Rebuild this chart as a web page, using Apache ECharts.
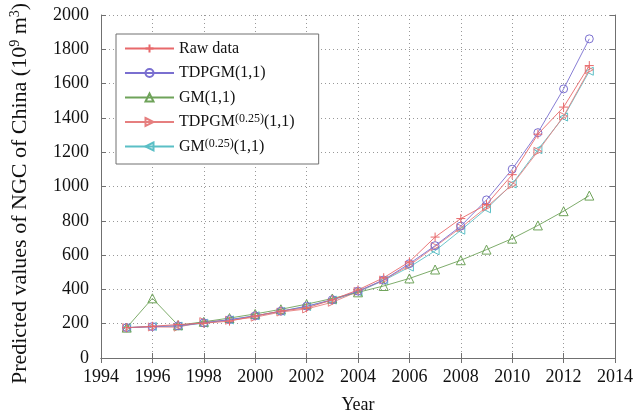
<!DOCTYPE html>
<html>
<head>
<meta charset="utf-8">
<script src="https://cdn.jsdelivr.net/npm/echarts@6/dist/echarts.min.js"></script>
<style>html,body{margin:0;padding:0;background:#fff;}#c{width:636px;height:419px;}</style>
</head>
<body>
<div id="c"></div>
<script>
var years = [1995,1996,1997,1998,1999,2000,2001,2002,2003,2004,2005,2006,2007,2008,2009,2010,2011,2012,2013];
var rawData  = [177,185,195,203,215,245,274,292,339,397,468,561,705,813,895,1069,1305,1463,1705];
var tdpgm    = [177,183,188,205,224,246,273,302,340,390,455,550,655,769,922,1101,1314,1569,1861];
var gm       = [177,348,191,211,233,257,284,314,347,383,420,464,516,570,632,696,773,856,947];
var tdpgm025 = [177,181,180,212,220,238,268,286,325,388,455,540,650,760,880,1010,1205,1410,1681];
var gm025    = [177,184,186,203,222,246,272,300,338,385,452,530,625,745,870,1015,1215,1405,1672];
var seriesNames = ['Raw data','TDPGM(1,1)','GM(1,1)','TDPGM^(0.25)(1,1)','GM^(0.25)(1,1)'];
var xTicks = {min:1994, max:2014, interval:2};
var yTicks = {min:0, max:2000, interval:200};

var FONT = 'Liberation Serif';
function pairs(v){ return years.map(function(y,i){ return [y, v[i]]; }); }
var colors = ['#e8696b','#7a6fd0','#6fa35a','#e67f7f','#5bbfc6'];
var symbols = [
  'path://M0,-1L0,1M-1,0L1,0',
  'circle',
  'triangle',
  'path://M0,0L10,5L0,10Z',
  'path://M10,0L0,5L10,10Z'
];
var sizes = [9,8,9,8,8];
var datasets = [rawData, tdpgm, gm, tdpgm025, gm025];
var series = datasets.map(function(d,i){
  return {
    name: seriesNames[i], type:'line', data: pairs(d),
    symbol: symbols[i], symbolSize: sizes[i], showAllSymbol:true,
    lineStyle:{color:colors[i], width:0.9},
    itemStyle:{color: i===0 ? colors[i] : 'rgba(255,255,255,0)', borderColor:colors[i], borderWidth:1},
    emphasis:{disabled:true},
    animation:false, z: 10 - i
  };
});

var chart = echarts.init(document.getElementById('c'), null, {renderer:'canvas'});
var axisLine = {show:true, lineStyle:{color:'#707070', width:1}};
var tick = {show:true, inside:true, length:5, lineStyle:{color:'#707070'}};
function plain(v){ return String(v); }
chart.setOption({
  backgroundColor:'#fff',
  animation:false,
  textStyle:{fontFamily:FONT},
  grid:{left:87, right:21, top:15, bottom:59, containLabel:false},
  legend:{
    data: seriesNames, orient:'vertical', left:116, top:34,
    backgroundColor:'#fff', borderColor:'#707070', borderWidth:1, borderRadius:0,
    padding:[5,24,8,8], itemWidth:49, itemHeight:10, itemGap:5.5,
    textStyle:{fontFamily:FONT, fontSize:16, color:'#111',
      rich:{n:{fontFamily:FONT,fontSize:16,color:'#111',height:19,lineHeight:19}, s:{fontFamily:FONT,fontSize:12,color:'#111',padding:[0,0,6,0]}}},
    formatter:function(n){
      var m = n.match(/^(.*)\^(\(.*?\))(.*)$/);
      if(m) return '{n|'+m[1]+'}{s|'+m[2]+'}{n|'+m[3]+'}';
      return '{n|'+n+'}';
    }
  },
  xAxis:[{
    type:'value', min:xTicks.min, max:xTicks.max, interval:xTicks.interval,
    name:'Year', nameLocation:'middle', nameGap:38,
    nameTextStyle:{fontFamily:FONT, fontSize:18, color:'#111'},
    axisLine:axisLine, axisTick:tick,
    axisLabel:{fontFamily:FONT, fontSize:18, color:'#111', margin:10, formatter:plain},
    splitLine:{show:true, lineStyle:{color:'#999', type:[1,3], width:1}}
  },{
    type:'value', position:'top', min:xTicks.min, max:xTicks.max, interval:xTicks.interval,
    axisLine:axisLine, axisTick:tick, axisLabel:{show:false}, splitLine:{show:false}
  }],
  yAxis:[{
    type:'value', min:yTicks.min, max:yTicks.max, interval:yTicks.interval,
    name:'Predicted values of NGC of China (10{s|9} m{s|3})',
    nameLocation:'middle', nameGap:69, nameRotate:90,
    nameTextStyle:{fontFamily:FONT, fontSize:22, color:'#111', padding:[0,14,0,0],
      rich:{s:{fontFamily:FONT, fontSize:14, color:'#111', padding:[0,0,10,0]}}},
    axisLine:axisLine, axisTick:tick,
    axisLabel:{fontFamily:FONT, fontSize:18, color:'#111', margin:12, formatter:plain},
    splitLine:{show:true, lineStyle:{color:'#999', type:[1,3], width:1}}
  },{
    type:'value', position:'right', min:yTicks.min, max:yTicks.max, interval:yTicks.interval,
    axisLine:axisLine, axisTick:tick, axisLabel:{show:false}, splitLine:{show:false}
  }],
  series: series
});
</script>
</body>
</html>
